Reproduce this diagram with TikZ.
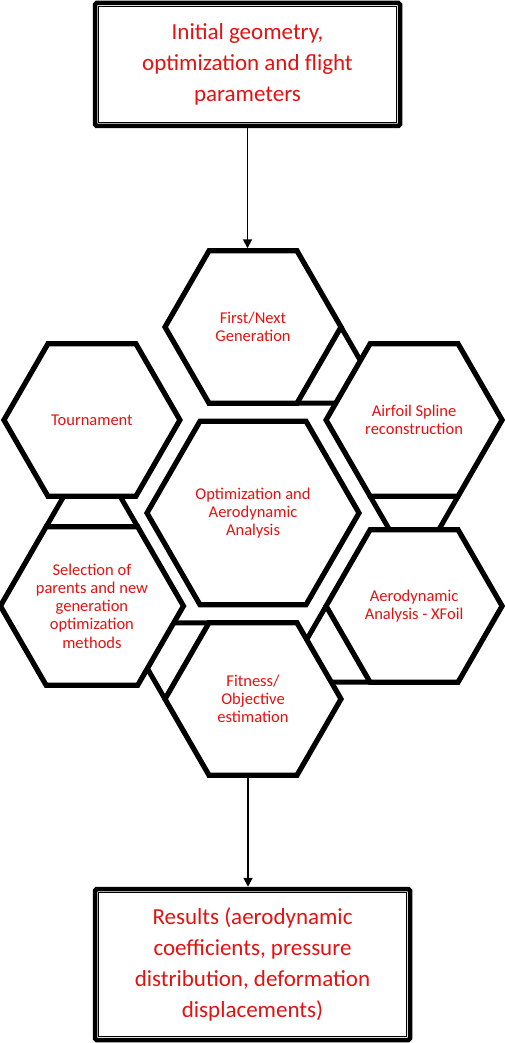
\documentclass[tikz,border=0pt]{standalone}
\usepackage{fontspec}
\setmainfont{Carlito}
\usetikzlibrary{shapes.geometric, arrows.meta, positioning, calc}
\definecolor{labelred}{RGB}{226,18,18}

\begin{document}
\begin{tikzpicture}[
  x=1pt, y=1pt,
  % Node styles
  endbox/.style={draw, line width=4.5pt, rounded corners=1.5pt, align=center,
                 text=labelred, font=\fontsize{23}{31}\selectfont, inner sep=0pt},
  hexa/.style={draw, regular polygon, regular polygon sides=6, line width=5.2pt,
               minimum size=176pt, inner sep=0pt, outer sep=0pt, align=center,
               text=labelred, font=\fontsize{16.5}{18.3}\selectfont},
  % Line styles
  arr/.style={-{Triangle[length=9pt, width=9pt]}, line width=1.8pt},
  bridge/.style={line width=5pt},
  inner/.style={line width=1.4pt},
]
  \useasboundingbox (0,0) rectangle (505,-1043);

  % ── Input box ──
  \node[endbox, minimum width=305pt, minimum height=123pt] (init) at (247.5,-64.5)
    {Initial geometry,\\ optimization and flight\\ parameters};
  \draw[inner] ([shift={(5.5pt,-5.5pt)}]init.north west) rectangle ([shift={(-5.5pt,5.5pt)}]init.south east);

  % ── Hexagon ring ──
  \node[hexa, minimum size=212pt] (opt) at (253,-513) {Optimization and\\ Aerodynamic\\ Analysis};
  \node[hexa] (gen) at ([shift={(90:186pt)}]opt.center) {First/Next\\ Generation};
  \node[hexa] (spline) at ([shift={(30:186pt)}]opt.center) {Airfoil Spline\\ reconstruction};
  \node[hexa] (xfoil) at ([shift={(-30:186pt)}]opt.center) {Aerodynamic\\ Analysis - XFoil};
  \node[hexa] (fit) at ([shift={(-90:186pt)}]opt.center) {Fitness/\\ Objective\\ estimation};
  \node[hexa] (select) at ([shift={(-150:186pt)}]opt.center) {Selection of\\ parents and new\\ generation\\ optimization\\ methods};
  \node[hexa] (tourn) at ([shift={(150:186pt)}]opt.center) {Tournament};

  % ── Output box ──
  \node[endbox, minimum width=315pt, minimum height=151pt] (res) at (252.5,-964.5)
    {Results (aerodynamic\\ coefficients, pressure\\ distribution, deformation\\ displacements)};
  \draw[inner] ([shift={(5.5pt,-5.5pt)}]res.north west) rectangle ([shift={(-5.5pt,5.5pt)}]res.south east);

  % ── Bridges between neighbouring hexagons (edges carried on to the next one) ──
  \draw[bridge] (gen.0) -- (intersection of gen.60--gen.0 and spline.120--spline.180);
  \draw[bridge] (gen.300) -- (intersection of gen.240--gen.300 and spline.120--spline.180);
  \draw[bridge] (spline.240) -- (intersection of spline.180--spline.240 and xfoil.120--xfoil.60);
  \draw[bridge] (spline.300) -- (intersection of spline.0--spline.300 and xfoil.120--xfoil.60);
  \draw[bridge] (xfoil.180) -- (intersection of xfoil.120--xfoil.180 and fit.60--fit.0);
  \draw[bridge] (xfoil.240) -- (intersection of xfoil.300--xfoil.240 and fit.60--fit.0);
  \draw[bridge] (fit.120) -- (intersection of fit.60--fit.120 and select.0--select.300);
  \draw[bridge] (fit.180) -- (intersection of fit.240--fit.180 and select.0--select.300);
  \draw[bridge] (select.120) -- (intersection of select.180--select.120 and tourn.240--tourn.300);
  \draw[bridge] (select.60) -- (intersection of select.0--select.60 and tourn.240--tourn.300);

  % ── Arrows ──
  \draw[arr, shorten >=2.5pt] (init.south) -- (init.south |- gen.north);
  \draw[arr] ([xshift=-5pt]fit.south) -- ([xshift=-5pt]fit.south |- res.north);
\end{tikzpicture}
\end{document}
